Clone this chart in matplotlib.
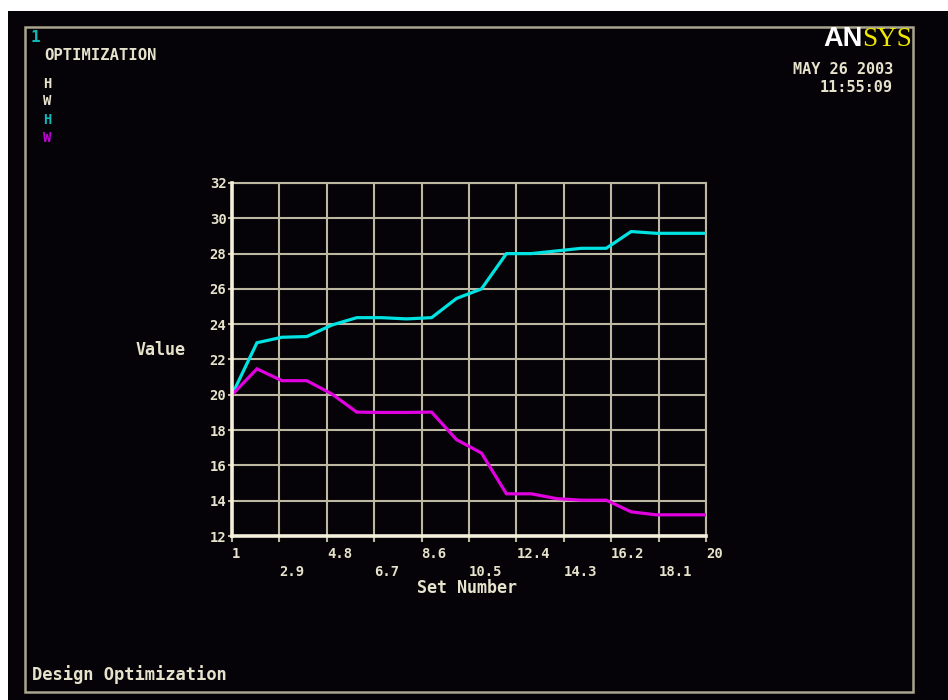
import matplotlib
matplotlib.use("Agg")
import matplotlib.pyplot as plt
from matplotlib.patches import Rectangle

# ---- data ----
set_number = list(range(1, 21))
h_values = [20.0, 22.95, 23.26, 23.3, 23.95, 24.37, 24.37, 24.3, 24.37, 25.46,
            26.0, 28.0, 28.0, 28.15, 28.3, 28.3, 29.25, 29.15, 29.15, 29.15]
w_values = [20.0, 21.47, 20.8, 20.8, 20.05, 19.02, 19.0, 19.0, 19.02, 17.46,
            16.7, 14.39, 14.39, 14.12, 14.03, 14.03, 13.37, 13.2, 13.2, 13.2]
x_ticks_row1 = [1, 4.8, 8.6, 12.4, 16.2, 20]
x_ticks_row2 = [2.9, 6.7, 10.5, 14.3, 18.1]
y_ticks = [12, 14, 16, 18, 20, 22, 24, 26, 28, 30, 32]

W, H = 948, 700
fig = plt.figure(figsize=(W / 100, H / 100), dpi=100)
fig.patch.set_facecolor("white")

def fx(x):
    return x / W

def fy(y):
    return 1 - y / H

TXT = "#e6e2cc"
GRID = "#bdb8a2"
MONO = "DejaVu Sans Mono"

# black screen and frame
fig.add_artist(Rectangle((fx(8), 0), 1 - fx(8), fy(11), transform=fig.transFigure,
                         facecolor="#050307", edgecolor="none", zorder=0))
fig.add_artist(Rectangle((fx(24.5), fy(692)), fx(913) - fx(24.5), fy(26.5) - fy(692),
                         transform=fig.transFigure, facecolor="none",
                         edgecolor="#a9a690", linewidth=1.8, zorder=1))

ax = fig.add_axes([fx(232), fy(536), fx(706) - fx(232), fy(183) - fy(536)])
ax.set_facecolor("none")
ax.plot(set_number, h_values, color="#00e3e3", lw=2.3, zorder=3, solid_joinstyle="miter")
ax.plot(set_number, w_values, color="#e000e0", lw=2.3, zorder=3, solid_joinstyle="miter")
ax.set_xlim(1, 20)
ax.set_ylim(12, 32)

ax.set_xticks(x_ticks_row1)
ax.set_xticklabels([("%g" % v) for v in x_ticks_row1])
ax.set_xticks(x_ticks_row2, minor=True)
ax.set_xticklabels([("%g" % v) for v in x_ticks_row2], minor=True)
ax.set_yticks(y_ticks)
ax.set_yticklabels([str(v) for v in y_ticks])

ax.tick_params(axis="x", which="major", length=4, width=1.5, color=GRID, pad=4,
               labelsize=10, labelcolor=TXT)
ax.tick_params(axis="x", which="minor", length=4, width=1.5, color=GRID, pad=17,
               labelsize=10, labelcolor=TXT)
ax.tick_params(axis="y", length=3, width=1.5, color=GRID, pad=1,
               labelsize=10, labelcolor=TXT)
for lab in ax.get_xticklabels(which="both"):
    lab.set_horizontalalignment("left")
    lab.set_fontfamily(MONO)
    lab.set_fontweight("bold")
for lab in ax.get_yticklabels():
    lab.set_fontfamily(MONO)
    lab.set_fontweight("bold")

ax.grid(True, which="both", color=GRID, lw=1.5, zorder=1)
ax.set_axisbelow(True)
for s in ("left", "bottom"):
    ax.spines[s].set_color("#f4f0dc")
    ax.spines[s].set_linewidth(2.6)
    ax.spines[s].set_zorder(4)
for s in ("top", "right"):
    ax.spines[s].set_color(GRID)
    ax.spines[s].set_linewidth(1.5)

# texts
fig.text(fx(136), fy(350), "Value", color=TXT, fontsize=12, family=MONO,
         fontweight="bold", va="center", ha="left")
fig.text(fx(417), fy(588), "Set Number", color=TXT, fontsize=12, family=MONO,
         fontweight="bold", va="center", ha="left")
fig.text(fx(32), fy(675), "Design Optimization", color=TXT, fontsize=12.3, family=MONO,
         fontweight="bold", va="center", ha="left")
fig.text(fx(31), fy(37), "1", color="#10b8b8", fontsize=11.5, family=MONO,
         fontweight="bold", va="center", ha="left")
fig.text(fx(44), fy(55), "OPTIMIZATION", color=TXT, fontsize=11.2, family=MONO,
         fontweight="bold", va="center", ha="left")
fig.text(fx(43), fy(84), "H", color=TXT, fontsize=10, family=MONO,
         fontweight="bold", va="center", ha="left")
fig.text(fx(43), fy(101), "W", color=TXT, fontsize=10, family=MONO,
         fontweight="bold", va="center", ha="left")
fig.text(fx(43), fy(120), "H", color="#10b8b8", fontsize=10, family=MONO,
         fontweight="bold", va="center", ha="left")
fig.text(fx(43), fy(138), "W", color="#c000d8", fontsize=10, family=MONO,
         fontweight="bold", va="center", ha="left")
fig.text(fx(893), fy(69), "MAY 26 2003", color=TXT, fontsize=11, family=MONO,
         fontweight="bold", va="center", ha="right")
fig.text(fx(893), fy(87), "11:55:09", color=TXT, fontsize=11, family=MONO,
         fontweight="bold", va="center", ha="right")
fig.text(fx(863), fy(39), "AN", color="white", fontsize=19.5, family="Liberation Sans",
         fontweight="bold", va="center", ha="right")
fig.text(fx(862), fy(39), "SYS", color="#f0e800", fontsize=19.5, family="Liberation Serif",
         va="center", ha="left")

fig.savefig("out.png", dpi=100, facecolor=fig.get_facecolor())
